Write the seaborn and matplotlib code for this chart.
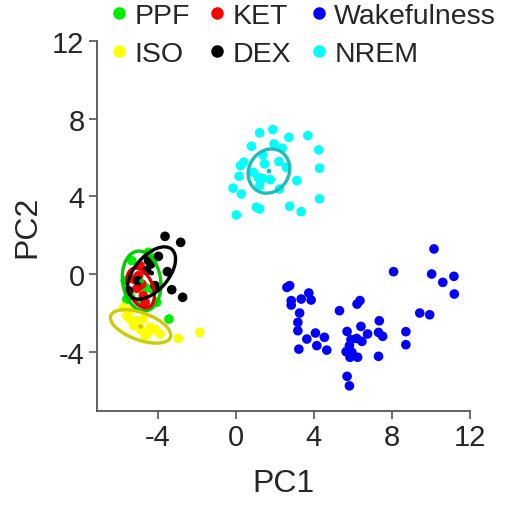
import numpy as np
import pandas as pd
import matplotlib
matplotlib.use('Agg')
import matplotlib.pyplot as plt
from matplotlib.patches import Ellipse
from matplotlib.lines import Line2D
import seaborn as sns

# ---------------- data ----------------
wake_x = [10.15, 8.08, 10.03, 10.6, 11.17, 11.19, 2.62, 2.76, 3.74, 2.84, 2.84, 3.35,
          3.86, 3.27, 3.18, 3.18, 3.64, 4.08, 4.54, 4.15, 4.66, 3.23, 5.31, 6.21,
          6.36, 5.7, 6.41, 6.75, 5.9, 6.19, 6.46, 5.82, 5.65, 5.95, 5.85, 6.24,
          7.35, 7.31, 7.52, 7.31, 5.7, 5.82, 8.71, 8.71, 9.42, 9.93]
wake_y = [1.29, 0.12, 0.0, -0.43, -0.12, -1.03, -0.69, -0.6, -0.98, -1.37, -1.6, -1.29,
          -1.34, -2.01, -2.49, -2.92, -3.35, -3.04, -3.26, -3.69, -3.92, -3.87, -1.89, -1.55,
          -1.37, -2.96, -2.7, -3.09, -3.38, -3.32, -3.47, -3.69, -4.0, -4.04, -4.29, -4.29,
          -2.41, -3.01, -3.21, -4.24, -5.27, -5.76, -2.97, -3.64, -2.01, -2.1]

nrem_x = [1.22, 1.9, 2.72, 3.69, 0.8, 1.96, 2.38, 4.25, 1.39, 2.21, 1.48, 0.41, 0.24,
          2.59, 4.29, 0.88, 1.14, 0.17, 1.39, 1.77, 3.13, 1.22, -0.14, 0.29, 2.24,
          1.05, 1.22, 2.76, 3.35, 4.29, 0.03]
nrem_y = [7.27, 7.44, 7.04, 7.13, 6.58, 6.7, 6.48, 6.39, 6.13, 5.79, 5.67, 5.76, 5.58,
          5.5, 5.45, 5.24, 4.98, 5.03, 4.93, 4.86, 4.81, 4.55, 4.42, 4.12, 4.38,
          3.44, 3.35, 3.49, 3.21, 3.87, 3.04]

ppf_x = [-5.32, -5.66, -4.22, -4.47, -5.41, -4.3, -4.05, -3.42, -4.64, -4.9, -5.58]
ppf_y = [0.69, -0.34, 0.77, 1.12, -1.12, -0.77, -1.46, -2.32, -0.69, -1.46, -1.3]

iso_x = [-1.84, -2.94, -3.88, -5.75, -5.41, -5.07, -4.73, -5.24, -4.9, -4.47, -4.13,
         -4.64, -5.58, -4.39, -5.41]
iso_y = [-3.01, -3.32, -3.09, -1.72, -2.32, -2.41, -2.32, -2.66, -2.84, -3.01, -2.84,
         -3.18, -2.15, -2.75, -1.89]

ket_x = [-4.98, -4.81, -5.24, -4.73, -5.06, -4.64, -4.9]
ket_y = [-0.09, -0.52, -0.26, -1.12, -0.74, -1.46, 0.43]

dex_x = [-3.62, -2.82, -3.96, -3.5, -4.35, -4.56, -3.28, -2.72, -5.02, -5.49, -4.13, -4.47]
dex_y = [1.94, 1.63, 0.91, 0.12, 0.52, 0.17, -0.81, -1.2, -0.34, -0.86, -0.6, 0.69]

groups = ['PPF', 'ISO', 'KET', 'DEX', 'Wakefulness', 'NREM']
point_colors = ['#00EE00', '#FFFF00', '#FF0000', '#000000', '#0000FF', '#00FFFF']

# ellipses: group, centre, full width / height (data units), angle
ell_group = ['PPF', 'ISO', 'KET', 'DEX', 'NREM']
ell_cx = [-4.82, -4.87, -4.87, -4.31, 1.7]
ell_cy = [-0.36, -2.7, -0.72, 0.05, 5.3]
ell_w = [3.1, 3.25, 2.15, 3.2, 2.35]
ell_h = [1.95, 1.4, 1.25, 1.75, 2.05]
ell_ang = [98, -20, 112, 50, 60]
ell_colors = ['#00CC00', '#CCCC00', '#DD0000', '#000000', '#1CBDBD']

# ---------------- frame ----------------
parts = []
for g, xs, ys in [('PPF', ppf_x, ppf_y), ('ISO', iso_x, iso_y), ('KET', ket_x, ket_y),
                  ('DEX', dex_x, dex_y), ('Wakefulness', wake_x, wake_y),
                  ('NREM', nrem_x, nrem_y)]:
    parts.append(pd.DataFrame({'PC1': xs, 'PC2': ys, 'group': g}))
df = pd.concat(parts, ignore_index=True)

# ---------------- plot ----------------
sns.set_style('white')
plt.rcParams['font.family'] = ['Liberation Sans', 'DejaVu Sans']
plt.rcParams['axes.unicode_minus'] = False

fig = plt.figure(figsize=(5.11, 5.06), dpi=100)
ax = fig.add_axes([0.19, 0.186, 0.73, 0.731])

sns.scatterplot(data=df, x='PC1', y='PC2', hue='group', hue_order=groups,
                palette=dict(zip(groups, point_colors)), s=48, linewidth=0,
                legend=False, ax=ax, zorder=2)

for cx, cy, w, h, a, c in zip(ell_cx, ell_cy, ell_w, ell_h, ell_ang, ell_colors):
    ax.add_patch(Ellipse((cx, cy), w, h, angle=a, fill=False, edgecolor=c,
                         linewidth=2.4, zorder=3))
ax.scatter(ell_cx, ell_cy, s=12, c=ell_colors, linewidths=0, zorder=4)

ax.set_xlim(-7.1, 12)
ax.set_ylim(-7.05, 12)
ax.set_xticks([-4, 0, 4, 8, 12])
ax.set_yticks([-4, 0, 4, 8, 12])
ax.tick_params(labelsize=21, length=6, width=1.2, color='#555555', direction='out',
               left=True, bottom=True, pad=3)
sns.despine(ax=ax)
for side in ['left', 'bottom']:
    ax.spines[side].set_color('#555555')
    ax.spines[side].set_linewidth(1.3)
ax.spines['left'].set_bounds(-7.05, 12)
ax.spines['bottom'].set_bounds(-7.1, 12)
ax.set_xlabel('PC1', fontsize=23, labelpad=12)
ax.set_ylabel('PC2', fontsize=23, labelpad=7)

handles = [Line2D([], [], marker='o', linestyle='', markersize=9,
                  markerfacecolor=c, markeredgewidth=0, label=g)
           for g, c in zip(groups, point_colors)]
fig.legend(handles=handles, ncol=3, loc='upper center', bbox_to_anchor=(0.588, 1.02),
           frameon=False, fontsize=20.5, handletextpad=0.05, columnspacing=0.45,
           labelspacing=0.4, handlelength=1.0, borderaxespad=0.1)

fig.savefig('out.png', dpi=100)
